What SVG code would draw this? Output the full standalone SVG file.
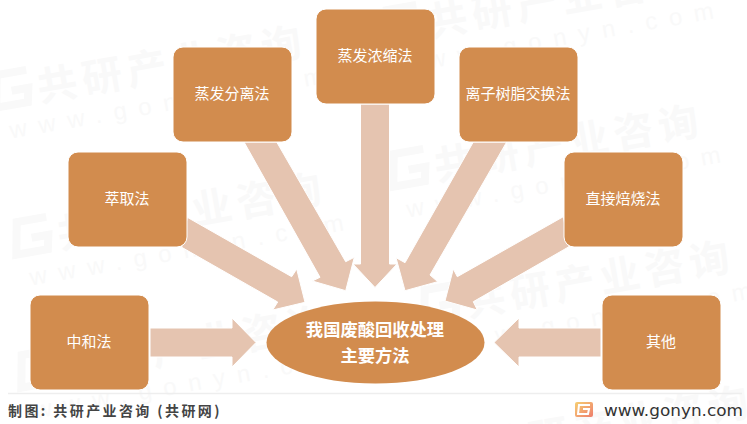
<svg xmlns="http://www.w3.org/2000/svg" width="747" height="424" viewBox="0 0 747 424">
<style>
text{font-family:"Noto Sans CJK SC","Noto Sans",sans-serif}
.box{fill:#d28c4e;stroke:#fff;stroke-width:1}
.lbl{fill:#fff;font-size:15px;text-anchor:middle}
.main{fill:#fff;font-size:17.3px;font-weight:700;text-anchor:middle}
.arrow{fill:#e5c4b0;stroke:#fff;stroke-width:1}
.wm1{fill:#f9f9f9;font-size:40px;font-weight:700;letter-spacing:5.5px}
.wm2{fill:#f9f9f9;font-family:"Liberation Sans",sans-serif;font-size:24px;letter-spacing:12px}
.wmg{fill:none;stroke:#f9f9f9;stroke-width:8}
</style>
<defs>
<linearGradient id="lg" x1="0" y1="0" x2="1" y2="1"><stop offset="0" stop-color="#f6cf72"/><stop offset="1" stop-color="#ee7d6c"/></linearGradient>
</defs>
<rect width="747" height="424" fill="#fff"/>
<g id="watermarks">
<g transform="translate(40,102) rotate(-10)"><path class="wmg" d="M-8,-34H-38L-44,-2H-12L-9,-16H-26"/><text class="wm1">共研产业咨询</text><text class="wm2" x="-35" y="31">www.gonyn.com</text></g>
<g transform="translate(60,249) rotate(-10)"><path class="wmg" d="M-8,-34H-38L-44,-2H-12L-9,-16H-26"/><text class="wm1">共研产业咨询</text><text class="wm2" x="-35" y="31">www.gonyn.com</text></g>
<g transform="translate(437,181) rotate(-10)"><path class="wmg" d="M-8,-34H-38L-44,-2H-12L-9,-16H-26"/><text class="wm1">共研产业咨询</text><text class="wm2" x="-35" y="31">www.gonyn.com</text></g>
<g transform="translate(430,37) rotate(-10)"><path class="wmg" d="M-8,-34H-38L-44,-2H-12L-9,-16H-26"/><text class="wm1">共研产业咨询</text><text class="wm2" x="-35" y="31">www.gonyn.com</text></g>
<g transform="translate(468,317) rotate(-10)"><path class="wmg" d="M-8,-34H-38L-44,-2H-12L-9,-16H-26"/><text class="wm1">共研产业咨询</text><text class="wm2" x="-35" y="31">www.gonyn.com</text></g>
<g transform="translate(65,382) rotate(-10)"><path class="wmg" d="M-8,-34H-38L-44,-2H-12L-9,-16H-26"/><text class="wm1">共研产业咨询</text><text class="wm2" x="-35" y="31">www.gonyn.com</text></g>
<g transform="translate(487,462) rotate(-10)"><text class="wm1">共研产业咨询</text></g>
</g>
<g id="connectors">
<polygon class="arrow" points="150,328 232,328 232,318 256,342.5 232,367 232,357 150,357"/>
<polygon class="arrow" points="601,328 519,328 519,318 494,342.5 519,367 519,357 601,357"/>
<polygon class="arrow" points="360.5,104 389.5,104 389.5,264 397,264 375,287.5 353,264 360.5,264"/>
<polygon class="arrow" points="187.3,217.3 291.7,276.7 296.7,269 305,302.3 272.7,310 277.7,302 181.7,247.3"/>
<polygon class="arrow" points="244,142 276.7,142 345.7,261.7 354.3,257.3 345.7,290.7 312.3,281 320,277.3"/>
<polygon class="arrow" points="473.3,142 506.7,142 430,275 437.7,281.7 405,290.7 396,257.7 405,262.7"/>
<polygon class="arrow" points="563.3,216.7 569,246.7 473.3,301.7 477.3,310 445,301 453.3,269 457.3,276.7"/>
</g>
<g id="node-zhonghe"><rect class="box" x="30" y="295" width="119" height="95" rx="10"/><text class="lbl" x="89" y="347">中和法</text></g>
<g id="node-cuiqu"><rect class="box" x="68" y="152" width="119" height="95" rx="10"/><text class="lbl" x="127" y="204">萃取法</text></g>
<g id="node-fenli"><rect class="box" x="173" y="47" width="119" height="95" rx="10"/><text class="lbl" x="232" y="99">蒸发分离法</text></g>
<g id="node-nongsuo"><rect class="box" x="316" y="9" width="119" height="95" rx="10"/><text class="lbl" x="375" y="61">蒸发浓缩法</text></g>
<g id="node-lizi"><rect class="box" x="459" y="47" width="119" height="95" rx="10"/><text class="lbl" x="518" y="99">离子树脂交换法</text></g>
<g id="node-beishao"><rect class="box" x="564" y="152" width="119" height="95" rx="10"/><text class="lbl" x="623" y="204">直接焙烧法</text></g>
<g id="node-qita"><rect class="box" x="602" y="295" width="119" height="95" rx="10"/><text class="lbl" x="661" y="347">其他</text></g>
<g id="node-center"><ellipse cx="375.5" cy="342.5" rx="109" ry="41" fill="#d28c4e"/><text class="main" x="375" y="335.5">我国废酸回收处理</text><text class="main" x="375" y="362">主要方法</text></g>
<g id="footer">
<line x1="8" y1="393.5" x2="742" y2="393.5" stroke="#eeeeee" stroke-width="1.5"/>
<text x="8" y="416" fill="#444" font-size="14" font-weight="700" letter-spacing="2.4">制图: 共研产业咨询 (共研网)</text>
<rect x="575" y="402" width="18" height="15" rx="2" fill="url(#lg)"/>
<path d="M590,405H579L578,414H588L589,409H583" fill="none" stroke="#fff" stroke-width="2"/>
<text x="604" y="416" fill="#333" style="font-family:'DejaVu Sans',sans-serif" font-size="15.5" font-weight="500" textLength="139" lengthAdjust="spacingAndGlyphs">www.gonyn.com</text>
</g>
</svg>
